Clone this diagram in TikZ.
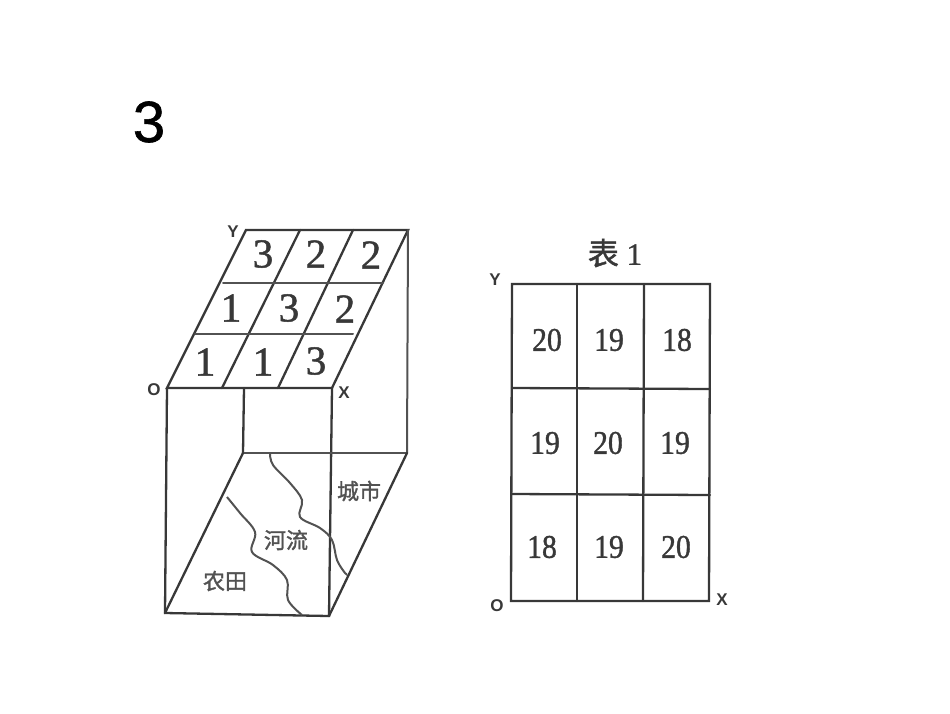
\documentclass[tikz,border=0pt]{standalone}
\usepackage{fontspec}
\setmainfont{Liberation Serif}
\newfontfamily\serifb[FakeBold=1.2]{Liberation Serif}
\newfontfamily\sansf{Liberation Sans}
\newfontfamily\sansb[FakeBold=1.0]{Liberation Sans}
\newfontfamily\cjk[FakeBold=1.5]{Noto Sans CJK SC}
\definecolor{ink}{gray}{0.22}
\definecolor{soft}{gray}{0.32}
\tikzset{
  edge/.style={draw=ink,line width=2.3pt,line cap=round},
  thin edge/.style={draw=soft,line width=2pt,line cap=round},
  river/.style={draw=soft,line width=2pt,smooth,tension=0.6},
  cube num/.style={font=\serifb\fontsize{41}{41}\selectfont,text=ink,inner sep=0pt},
  tab num/.style={font=\serifb\fontsize{33}{33}\selectfont,text=ink,inner sep=0pt,xscale=0.9},
  axis/.style={font=\sansf\bfseries\fontsize{17}{17}\selectfont,text=ink,inner sep=0pt},
  zh/.style={font=\cjk\fontsize{22}{22}\selectfont,text=soft,inner sep=0pt},
}
\begin{document}
\begin{tikzpicture}[x=1pt,y=-1pt]
\useasboundingbox (0,0) rectangle (950,713);
\node[inner sep=0pt,font=\sansb\fontsize{58}{58}\selectfont] (title) at (149,122) {3};
% cube corners
\coordinate (O) at (167,388);
\coordinate (X) at (332,388);
\coordinate (Y) at (246,230);
\coordinate (T) at (408,230);
\coordinate (a1) at (222,388); \coordinate (a2) at (300,230);
\coordinate (b1) at (278,388); \coordinate (b2) at (353,230);
\coordinate (l1) at (223,283); \coordinate (r1) at (383,283);
\coordinate (l2) at (195,334); \coordinate (r2) at (353,334);
\coordinate (FB) at (165,613);
\coordinate (FR) at (329,616);
\coordinate (M) at (244,388);
\coordinate (MB) at (243,453);
\coordinate (BR) at (407,453);
% top
\draw[edge] (O) -- (Y) -- (T) -- (X) -- cycle;
\draw[edge] (a1) -- (a2);
\draw[edge] (b1) -- (b2);
\draw[thin edge] (l1) -- (r1);
\draw[thin edge] (l2) -- (r2);
% front
\draw[edge] (O) -- (FB) -- (FR) -- (X);
\draw[edge] (M) -- (MB);
\draw[thin edge] (MB) -- (BR);
\draw[thin edge] (T) -- (BR);
\draw[edge] (MB) -- (FB);
\draw[edge] (BR) -- (FR);
% rivers
\draw[river] plot coordinates {(270,453) (273,465) (290,483) (302,500) (300,517) (320,528) (332,540) (337,560) (345,573) (347,574)};
\draw[river] plot coordinates {(227,497) (240,513) (255,532) (252,552) (273,565) (287,580) (288,600) (302,615)};
% cube numbers
\node[cube num] (c11) at (263,254) {3};
\node[cube num] (c12) at (316,254) {2};
\node[cube num] (c13) at (371,255) {2};
\node[cube num] (c21) at (231,308) {1};
\node[cube num] (c22) at (289,308) {3};
\node[cube num] (c23) at (345,309) {2};
\node[cube num] (c31) at (205,362) {1};
\node[cube num] (c32) at (263,362) {1};
\node[cube num] (c33) at (316,361) {3};
\node[axis] (lY) at (233,232) {Y};
\node[axis] (lO) at (154,390) {O};
\node[axis] (lX) at (344,393) {X};
\node[zh] (nt) at (225,581) {农田};
\node[zh] (hl) at (286,540) {河流};
\node[zh] (cs) at (359,491) {城市};
% table
\coordinate (tl) at (512,284); \coordinate (tr) at (710,284);
\coordinate (bl) at (511,601); \coordinate (br) at (709,601);
\coordinate (v1t) at (577,284); \coordinate (v1b) at (577,601);
\coordinate (v2t) at (644,284); \coordinate (v2b) at (643,601);
\coordinate (h1l) at (512,388); \coordinate (h1r) at (710,389);
\coordinate (h2l) at (512,494); \coordinate (h2r) at (710,495);
\draw[edge] (tl) -- (tr) -- (br) -- (bl) -- cycle;
\draw[edge] (v1t) -- (v1b);
\draw[edge] (v2t) -- (v2b);
\draw[edge] (h1l) -- (h1r);
\draw[edge] (h2l) -- (h2r);
\node[tab num] (t11) at (547,340) {20};
\node[tab num] (t12) at (609,340) {19};
\node[tab num] (t13) at (677,340) {18};
\node[tab num] (t21) at (545,443) {19};
\node[tab num] (t22) at (608,443) {20};
\node[tab num] (t23) at (675,443) {19};
\node[tab num] (t31) at (542,547) {18};
\node[tab num] (t32) at (609,547) {19};
\node[tab num] (t33) at (676,547) {20};
\node[axis] (tY) at (495,280) {Y};
\node[axis] (tO) at (497,606) {O};
\node[axis] (tX) at (722,600) {X};
\node[inner sep=0pt,text=ink,font=\serifb\fontsize{31}{31}\selectfont] (cap) at (615,253) {{\cjk 表} 1};
\end{tikzpicture}
\end{document}
